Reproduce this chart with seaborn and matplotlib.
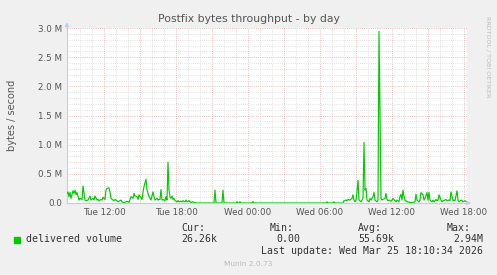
import matplotlib
matplotlib.use("Agg")
import matplotlib.pyplot as plt
import matplotlib.patches as mpatches
import seaborn as sns
import pandas as pd
import numpy as np

# ---- data ----
times = [
"24 08:55","24 09:00","24 09:05","24 09:10","24 09:15","24 09:25","24 09:30","24 09:35","24 09:40","24 09:45",
"24 09:55","24 10:00","24 10:10","24 10:15","24 10:25","24 10:30","24 10:40","24 10:50","24 10:55","24 11:05",
"24 11:10","24 11:15","24 11:25","24 11:30","24 11:35","24 11:45","24 11:50","24 11:55","24 12:05","24 12:10",
"24 12:15","24 12:25","24 12:30","24 12:35","24 12:45","24 12:50","24 12:55","24 13:05","24 13:10","24 13:15",
"24 13:25","24 13:30","24 13:35","24 13:45","24 13:50","24 13:55","24 14:05","24 14:10","24 14:15","24 14:25",
"24 14:30","24 14:35","24 14:45","24 14:50","24 14:55","24 15:05","24 15:10","24 15:15","24 15:20","24 15:30",
"24 15:35","24 15:45","24 15:50","24 15:55","24 16:05","24 16:10","24 16:15","24 16:25","24 16:30","24 16:35",
"24 16:40","24 16:45","24 16:50","24 16:55","24 17:05","24 17:10","24 17:15","24 17:20","24 17:25","24 17:30",
"24 17:35","24 17:40","24 17:45","24 17:50","24 17:55","24 18:05","24 18:10","24 18:15","24 18:25","24 18:30",
"24 18:35","24 18:45","24 18:50","24 18:55","24 19:05","24 19:10","24 19:15","24 19:25","24 19:30","24 19:35",
"24 19:45","24 21:10","24 21:15","24 21:20","24 21:50","24 21:55","24 22:00","24 23:00","24 23:05","24 23:10",
"24 23:15","24 23:20","24 23:25","25 00:20","25 00:25","25 00:30","25 06:30","25 06:35","25 06:40","25 07:05",
"25 07:10","25 07:15","25 07:55","25 08:00","25 08:10","25 08:15","25 08:20","25 08:30","25 08:40","25 08:45",
"25 08:50","25 08:55","25 09:00","25 09:05","25 09:10","25 09:15","25 09:25","25 09:30","25 09:35","25 09:40",
"25 09:45","25 09:50","25 09:55","25 10:05","25 10:10","25 10:15","25 10:25","25 10:30","25 10:35","25 10:45",
"25 10:50","25 10:55","25 11:05","25 11:10","25 11:15","25 11:25","25 11:30","25 11:35","25 11:40","25 11:45",
"25 11:55","25 12:00","25 12:05","25 12:15","25 12:20","25 12:25","25 12:35","25 12:40","25 12:45","25 12:50",
"25 12:55","25 13:00","25 13:05","25 13:15","25 13:20","25 13:30","25 13:40","25 13:45","25 13:55","25 14:00",
"25 14:05","25 14:15","25 14:20","25 14:25","25 14:35","25 14:40","25 14:45","25 14:55","25 15:00","25 15:05",
"25 15:10","25 15:20","25 15:25","25 15:30","25 15:40","25 15:45","25 15:50","25 15:55","25 16:05","25 16:10",
"25 16:15","25 16:25","25 16:30","25 16:35","25 16:45","25 16:50","25 16:55","25 17:05","25 17:10","25 17:15",
"25 17:25","25 17:30","25 17:35","25 17:45","25 17:50","25 17:55","25 18:05","25 18:10",
]

delivered_mbps = [
0.165,0.19,0.11,0.18,0.08,0.21,0.165,0.22,0.14,0.18,
0.05,0.08,0.06,0.29,0.05,0.04,0.05,0.12,0.05,0.08,
0.05,0.12,0.05,0.06,0.04,0.06,0.05,0.10,0.06,0.22,
0.25,0.26,0.19,0.08,0.05,0.04,0.06,0.04,0.02,0.03,
0.05,0.02,0.01,0.01,0.02,0.03,0.01,0.06,0.11,0.08,
0.165,0.12,0.11,0.06,0.14,0.09,0.06,0.19,0.28,0.41,
0.22,0.11,0.08,0.05,0.19,0.11,0.05,0.08,0.05,0.06,
0.06,0.23,0.05,0.06,0.04,0.11,0.05,0.70,0.22,0.11,
0.08,0.12,0.06,0.08,0.04,0.02,0.04,0.02,0.03,0.02,
0.04,0.02,0.05,0.02,0.04,0.02,0.01,0.02,0.01,0.005,
0,0,0.22,0,0,0.22,0,0,0.02,0,
0,0.02,0,0,0.025,0,0,0.02,0,0,
0.02,0,0,0.04,0.05,0.04,0.06,0.05,0.08,0.14,
0.05,0.02,0.05,0.19,0.39,0.05,0.02,0.05,0.08,1.04,
0.22,0.25,0.05,0.02,0.08,0.05,0.11,0.18,0.05,0.02,
0.05,2.94,0.08,0.05,0.06,0.08,0.165,0.06,0.04,0.05,
0.03,0.05,0.08,0.04,0.02,0.05,0.02,0.11,0.15,0.05,
0.22,0.11,0.05,0.02,0.02,0.01,0.01,0.01,0.02,0.15,
0.05,0.02,0.05,0.18,0.14,0.05,0.08,0.18,0.05,0.18,
0.05,0.02,0.05,0.02,0.06,0.04,0.05,0.14,0.05,0.02,
0.04,0.05,0.06,0.04,0.05,0.04,0.19,0.04,0.05,0.04,
0.21,0.05,0.02,0.05,0.04,0.02,0.04,0.026,
]

ytick_values = [0.0, 0.5, 1.0, 1.5, 2.0, 2.5, 3.0]
ytick_labels = ["0.0", "0.5 M", "1.0 M", "1.5 M", "2.0 M", "2.5 M", "3.0 M"]
xtick_hours = [12, 18, 24, 30, 36, 42]
xtick_labels = ["Tue 12:00", "Tue 18:00", "Wed 00:00", "Wed 06:00", "Wed 12:00", "Wed 18:00"]

title = "Postfix bytes throughput - by day"
ylabel = "bytes / second"
series_name = "delivered volume"
stats_head = ["Cur:", "Min:", "Avg:", "Max:"]
stats_vals = ["26.26k", "0.00", "55.69k", "2.94M"]
last_update = "Last update: Wed Mar 25 18:10:34 2026"
version = "Munin 2.0.73"
side_text = "RRDTOOL / TOBI OETIKER"

# ---- frame ----
ts = pd.to_datetime(["2026-03-" + t for t in times], format="%Y-%m-%d %H:%M")
base = pd.Timestamp("2026-03-24 00:00")
df = pd.DataFrame({
    "hours": (ts - base) / pd.Timedelta(hours=1),
    "value": delivered_mbps,
})

sns.set_theme(style="white")
plt.rcParams["font.family"] = ["DejaVu Sans"]

W, H = 497, 275
fig = plt.figure(figsize=(W / 100, H / 100), dpi=100, facecolor="#F0F0F0")
L, R, T, B = 67, 467, 28, 203
ax = fig.add_axes([L / W, 1 - B / H, (R - L) / W, (B - T) / H])
ax.set_facecolor("white")

GREEN = "#00CC00"
sns.lineplot(data=df, x="hours", y="value", ax=ax, color=GREEN, linewidth=0.85,
             estimator=None, sort=False, zorder=5)

x0 = 8 + 55 / 60
x1 = 42.25
ax.set_xlim(x0, x1)
ax.set_ylim(0, 3.0)

# grid (RRD-style dotted)
minor_c = "#D8D8D8"
major_c = "#EBA8A8"
dash = (0, (1.0, 1.6))
gkw = dict(lw=0.6, ls=dash)
for h in np.arange(10, 43, 1):
    if h % 3 == 0:
        continue
    ax.axvline(h, color=minor_c, zorder=1, **gkw)
for h in np.arange(12, 43, 3):
    ax.axvline(h, color=major_c, zorder=2, **gkw)
for v in np.arange(0.1, 3.01, 0.1):
    if abs(v * 2 - round(v * 2)) < 1e-6:
        continue
    ax.axhline(v, color=minor_c, zorder=1, **gkw)
for v in ytick_values[1:]:
    ax.axhline(v, color=major_c, zorder=2, **gkw)

ax.set_yticks(ytick_values)
ax.set_yticklabels(ytick_labels)
ax.set_xticks(xtick_hours)
ax.set_xticklabels(xtick_labels)
ax.tick_params(axis="both", length=0, labelsize=6.3, labelcolor="#555555")
ax.tick_params(axis="y", pad=3.5)
ax.tick_params(axis="x", pad=3.5)
ax.set_xlabel("")
ax.set_ylabel("")

for s in ["top", "right"]:
    ax.spines[s].set_visible(False)
for s in ["left", "bottom"]:
    ax.spines[s].set_color("#C8C8F0")
    ax.spines[s].set_linewidth(0.8)

# arrows
ax.annotate("", xy=(0, 1.05), xycoords="axes fraction", xytext=(0, 0.98),
            arrowprops=dict(arrowstyle="-|>", color="#C8C8F0", lw=0.8, mutation_scale=6),
            annotation_clip=False)
ax.annotate("", xy=(1.017, 0), xycoords="axes fraction", xytext=(0.99, 0),
            arrowprops=dict(arrowstyle="-|>", color="#C8C8F0", lw=0.8, mutation_scale=6),
            annotation_clip=False)

def fx(px):
    return px / W

def fy(py):
    return 1 - py / H

txt = "#555555"
fig.text(fx(248.5), fy(19), title, ha="center", va="center", fontsize=7.8, color=txt)
fig.text(fx(12), fy(115), ylabel, ha="center", va="center", rotation=90, fontsize=7.0, color=txt)
fig.text(fx(488), fy(57), side_text, ha="center", va="center", rotation=270, fontsize=4.6, color="#BBBBBB")

mono = "DejaVu Sans Mono"
fs_m = 7.1
fig.patches.append(mpatches.Rectangle((fx(14), fy(243)), 6 / W, 6 / H, transform=fig.transFigure,
                                      color=GREEN, zorder=3))
fig.text(fx(26), fy(239.5), series_name, ha="left", va="center", family=mono, fontsize=fs_m, color="#333333")

head_x = [181, 270, 358, 447]
val_right = [217, 300, 394, 483]
for hx, hd in zip(head_x, stats_head):
    fig.text(fx(hx), fy(228), hd, ha="left", va="center", family=mono, fontsize=fs_m, color="#333333")
for vx, vv in zip(val_right, stats_vals):
    fig.text(fx(vx), fy(239.5), vv, ha="right", va="center", family=mono, fontsize=fs_m, color="#333333")
fig.text(fx(483), fy(251.5), last_update, ha="right", va="center", family=mono, fontsize=fs_m, color="#333333")
fig.text(fx(248), fy(264), version, ha="center", va="center", fontsize=5.3, color="#BBBBBB")

fig.savefig("out.png", dpi=100, facecolor=fig.get_facecolor())
